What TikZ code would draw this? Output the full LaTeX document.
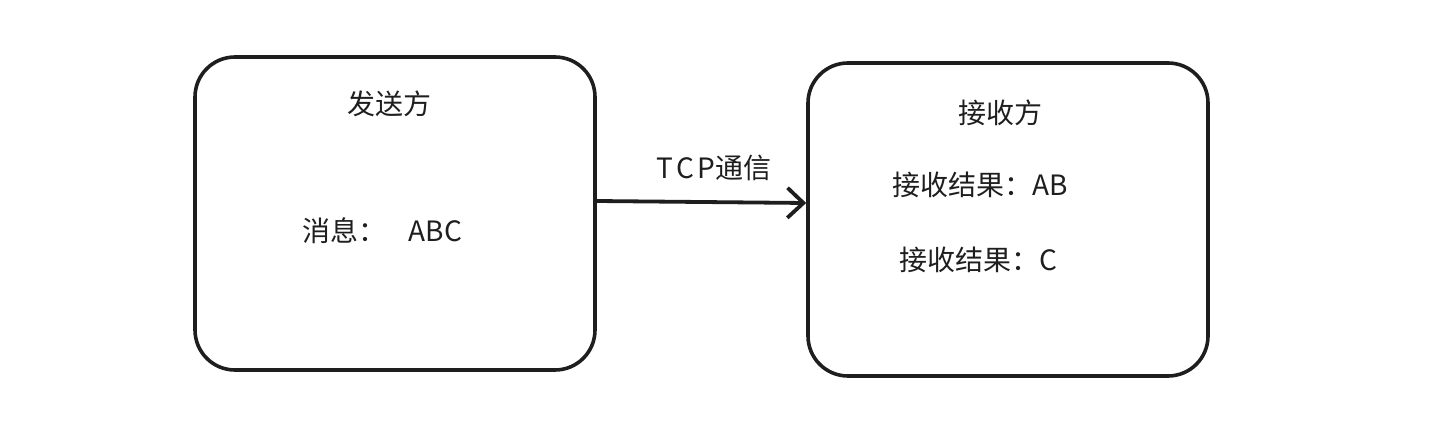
\documentclass[tikz,border=0pt]{standalone}
\usepackage{fontspec}
\setmainfont{Noto Sans CJK SC}
\usetikzlibrary{arrows.meta}
\definecolor{ink}{HTML}{1E1E1E}
\tikzset{
  box/.style={draw=ink, line width=3.6pt, rounded corners=40pt, minimum width=400pt, minimum height=313pt, inner sep=0pt},
  lbl/.style={text=ink, font=\fontsize{28}{32}\selectfont, inner sep=0pt},
  conn/.style={draw=ink, line width=3.8pt, -{Straight Barb[length=16pt, width=30pt, line width=3.8pt]}}
}
\begin{document}
\begin{tikzpicture}[x=1pt,y=-1pt]
\useasboundingbox (0,0) rectangle (1435,423);
\node[box] (send) at (395,213.5) {};
\node[box] (recv) at (1008,219.5) {};
\node[lbl] (sendt) at (389,104) {发送方};
\node[lbl, anchor=west] (msg) at (302,231) {消息：\hspace{0.8em}ABC};
\node[lbl] (recvt) at (1000,113) {接收方};
\node[lbl, anchor=west] (r1) at (892,185) {接收结果：AB};
\node[lbl, anchor=west] (r2) at (899,260) {接收结果：C};
\node[lbl] (tcp) at (714,168) {T\kern3pt C\kern3pt P通信};
\draw[conn] (send.east |- 0,201) -- (recv.west |- 0,203);
\end{tikzpicture}
\end{document}
